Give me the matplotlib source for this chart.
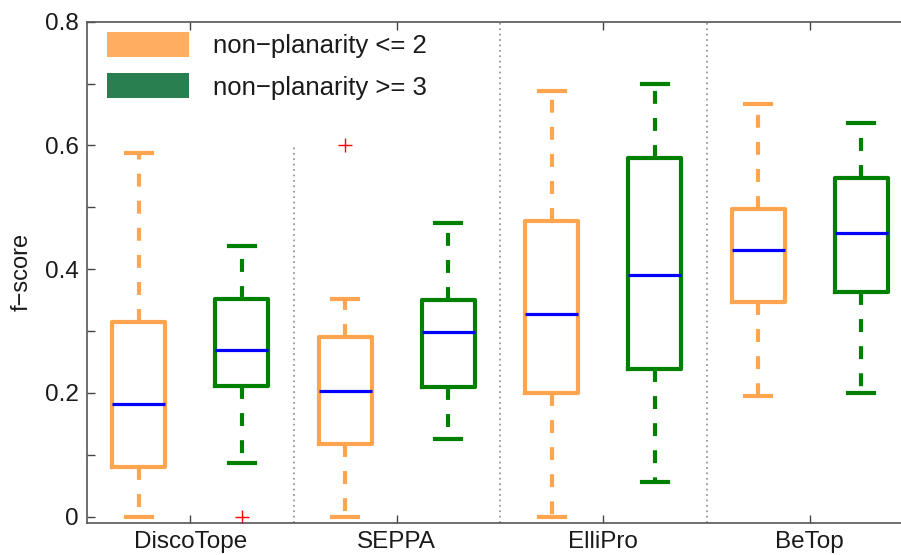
import matplotlib
matplotlib.use('Agg')
import matplotlib.pyplot as plt
from matplotlib.patches import Patch
from matplotlib.ticker import MultipleLocator

plt.rcParams['font.family'] = ['Liberation Sans', 'DejaVu Sans']

methods = ['DiscoTope', 'SEPPA', 'ElliPro', 'BeTop']
group_labels = ['non\u2212planarity <= 2', 'non\u2212planarity >= 3']

# non-planarity <= 2
low_whislo = [0.000, 0.000, 0.000, 0.195]
low_q1     = [0.080, 0.118, 0.200, 0.347]
low_med    = [0.182, 0.203, 0.328, 0.431]
low_q3     = [0.315, 0.290, 0.478, 0.497]
low_whishi = [0.588, 0.351, 0.688, 0.667]
low_fliers = [[], [0.600], [], []]

# non-planarity >= 3
high_whislo = [0.087, 0.125, 0.055, 0.200]
high_q1     = [0.211, 0.209, 0.238, 0.363]
high_med    = [0.269, 0.299, 0.391, 0.458]
high_q3     = [0.351, 0.350, 0.580, 0.548]
high_whishi = [0.438, 0.474, 0.700, 0.637]
high_fliers = [[0.000], [], [], []]

box_colors = ['#FFA54F', '#008000']
legend_colors = ['#FFAD60', '#2A7F50']


def make_stats(whislo, q1, med, q3, whishi, fliers):
    return [dict(whislo=a, q1=b, med=c, q3=d, whishi=e, fliers=f)
            for a, b, c, d, e, f in zip(whislo, q1, med, q3, whishi, fliers)]


groups = [
    make_stats(low_whislo, low_q1, low_med, low_q3, low_whishi, low_fliers),
    make_stats(high_whislo, high_q1, high_med, high_q3, high_whishi, high_fliers),
]
offsets = [-0.25, 0.25]

fig = plt.figure(figsize=(9.01, 5.55), dpi=100)
ax = fig.add_axes([87 / 901, (555 - 522.7) / 555, 826 / 901, 501 / 555])

centers = list(range(1, len(methods) + 1))
for stats, off, col in zip(groups, offsets, box_colors):
    pos = [c + off for c in centers]
    ax.bxp(stats, positions=pos, widths=0.256, capwidths=0.126,
           manage_ticks=False,
           boxprops=dict(color=col, linewidth=3.0),
           whiskerprops=dict(color=col, linewidth=3.0, linestyle=(0, (3.1, 3.4))),
           capprops=dict(color=col, linewidth=3.0),
           medianprops=dict(color='#0000FF', linewidth=2.3),
           flierprops=dict(marker='+', markeredgecolor='red', markersize=10,
                           markeredgewidth=1.0, linestyle='none'))

# group separators
sep_x = [1.5, 2.5, 3.5]
sep_top = [0.6, 0.8, 0.8]
ax.vlines(sep_x, -0.01, sep_top, colors='#999999', linestyles=(0, (1, 2)), linewidth=1.3)

ax.set_xlim(0.5, 4.5)
ax.set_ylim(-0.01, 0.8)
ax.set_xticks(centers)
ax.set_xticklabels(methods, fontsize=17.5)
ax.yaxis.set_minor_locator(MultipleLocator(0.1))
ax.set_yticks([0, 0.2, 0.4, 0.6, 0.8])
ax.set_yticklabels(['0', '0.2', '0.4', '0.6', '0.8'], fontsize=17.5)
ax.tick_params(which='both', direction='in', length=6, width=1.0, color='#444444',
               top=True, right=False, labelcolor='#1a1a1a', pad=6)
for s in ax.spines.values():
    s.set_color('#555555')
    s.set_linewidth(1.2)
ax.spines['right'].set_visible(False)
ax.set_ylabel('f\u2212score', fontsize=17, color='#1a1a1a', labelpad=9)

handles = [Patch(facecolor=c, edgecolor='none') for c in legend_colors]
fs_px = 18.5 * 100 / 72
leg = ax.legend(handles, group_labels, loc='upper left',
                bbox_to_anchor=((107 - 87) / 826, (522.7 - 32) / 501),
                fontsize=18.5, frameon=False, borderpad=0, borderaxespad=0,
                handlelength=82 / fs_px, handleheight=29 / fs_px,
                handletextpad=24 / fs_px, labelspacing=(44 - 29) / fs_px)
for t in leg.get_texts():
    t.set_color('#1a1a1a')

fig.savefig('out.png', dpi=100)
